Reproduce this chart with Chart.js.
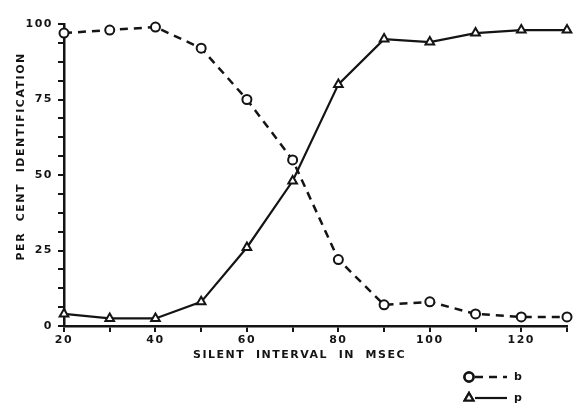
<!DOCTYPE html>
<html>
<head>
<meta charset="utf-8">
<script src="https://cdn.jsdelivr.net/npm/chart.js"></script>
<style>
  html, body { margin: 0; padding: 0; background: #fff; }
  #wrap { width: 574px; height: 404px; }
</style>
</head>
<body>
<div id="wrap"><canvas id="chart" width="574" height="404"></canvas></div>
<script>
// silent interval (msec)
const intervals = [20, 30, 40, 50, 60, 70, 80, 90, 100, 110, 120, 130]
// per cent identified as "b"
const bValues = [97, 98, 99, 92, 75, 55, 22, 7, 8, 4, 3, 3]
// per cent identified as "p"
const pValues = [4, 2.5, 2.5, 8, 26, 48, 80, 95, 94, 97, 98, 98]

const ink = '#141414'
const labelFont = { family: 'DejaVu Sans', size: 11, weight: 'bold' }

// spaced-out lettering like the original figure
const spacing = {
  id: 'spacing',
  beforeDraw(chart) { chart.ctx.letterSpacing = '1.5px' },
}

// little legend in the bottom-right corner: marker, line sample, letter
const cornerLegend = {
  id: 'cornerLegend',
  afterDraw(chart) {
    const ctx = chart.ctx
    const x0 = chart.chartArea.right - 98
    const rows = [chart.chartArea.bottom + 51, chart.chartArea.bottom + 72]
    chart.data.datasets.forEach((ds, i) => {
      const y = rows[i]
      ctx.save()
      ctx.strokeStyle = ink
      ctx.lineWidth = ds.borderWidth
      ctx.setLineDash(ds.borderDash || [])
      ctx.beginPath()
      ctx.moveTo(x0 + 6, y)
      ctx.lineTo(x0 + 38, y)
      ctx.stroke()
      ctx.setLineDash([])
      Chart.helpers.drawPoint(ctx, {
        pointStyle: ds.pointStyle,
        radius: ds.pointRadius,
        borderWidth: ds.pointBorderWidth,
      }, x0, y)
      ctx.fillStyle = '#fff'
      ctx.fill()
      ctx.stroke()
      ctx.fillStyle = ink
      ctx.font = 'bold 11px "DejaVu Sans"'
      ctx.textBaseline = 'middle'
      ctx.fillText(ds.label, x0 + 45, y)
      ctx.restore()
    })
  },
}

new Chart(document.getElementById('chart'), {
  type: 'line',
  data: {
    labels: intervals,
    datasets: [
      {
        label: 'b',
        data: intervals.map((x, i) => ({ x, y: bValues[i] })),
        borderColor: ink,
        borderWidth: 2.5,
        borderDash: [8, 6],
        pointStyle: 'circle',
        pointRadius: 4.5,
        pointBorderWidth: 2,
        pointBorderColor: ink,
        pointBackgroundColor: '#fff',
        tension: 0,
      },
      {
        label: 'p',
        data: intervals.map((x, i) => ({ x, y: pValues[i] })),
        borderColor: ink,
        borderWidth: 2.2,
        pointStyle: 'triangle',
        pointRadius: 5,
        pointBorderWidth: 2,
        pointBorderColor: ink,
        pointBackgroundColor: '#fff',
        tension: 0,
      },
    ],
  },
  options: {
    responsive: false,
    animation: false,
    clip: false,
    layout: { padding: { left: 11, top: 24, right: 4, bottom: 38 } },
    plugins: {
      legend: { display: false },
      tooltip: { enabled: false },
    },
    scales: {
      x: {
        type: 'linear',
        min: 20,
        max: 130,
        afterFit: (scale) => { scale.height = 40 },
        ticks: {
          stepSize: 10,
          autoSkip: false,
          maxRotation: 0,
          padding: 2,
          color: ink,
          font: labelFont,
          callback: (v) => (v % 20 === 0 ? v : ''),
        },
        grid: { drawOnChartArea: false, drawTicks: true, tickLength: 6, color: ink, lineWidth: 2 },
        border: { display: true, color: ink, width: 2.5 },
        title: {
          display: true,
          // trailing blanks nudge the centred title a little to the left
          text: 'SILENT  INTERVAL  IN  MSEC      ',
          color: ink,
          font: labelFont,
        },
      },
      y: {
        min: 0,
        max: 100,
        afterFit: (scale) => { scale.width = 53 },
        ticks: {
          stepSize: 6.25,
          autoSkip: false,
          padding: 5,
          color: ink,
          font: labelFont,
          callback: (v) => (v % 25 === 0 ? v : ''),
        },
        grid: { drawOnChartArea: false, drawTicks: true, tickLength: 6, color: ink, lineWidth: 2 },
        border: { display: true, color: ink, width: 2.5 },
        title: {
          display: true,
          // leading blanks lift the centred title a little
          text: '       PER  CENT  IDENTIFICATION',
          color: ink,
          font: labelFont,
        },
      },
    },
  },
  plugins: [spacing, cornerLegend],
})
</script>
</body>
</html>
